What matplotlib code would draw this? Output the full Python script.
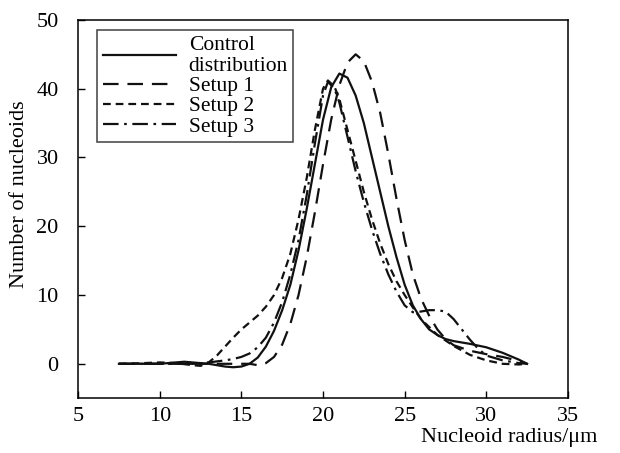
import matplotlib.pyplot as plt

plt.rcParams["font.family"] = ["Liberation Serif", "DejaVu Serif"]

# ─── data ──────────────────────────────────────────────────────────
ctrl_x = [7.5, 9, 10, 11, 11.5, 12, 13, 14, 14.5, 15, 15.5, 16, 16.5, 17, 17.5,
          18, 18.5, 19, 19.5, 20, 20.5, 21, 21.5, 22, 22.5, 23, 23.5, 24, 24.5,
          25, 25.5, 26, 26.5, 27, 27.5, 28, 29, 30, 31, 32, 32.5]
ctrl_y = [0, 0, 0, 0.2, 0.3, 0.2, 0, -0.4, -0.5, -0.4, 0, 0.9, 2.5, 4.8, 7.8,
          11.5, 16.5, 22.5, 29, 35.5, 40.2, 42.2, 41.6, 39, 35, 30, 25, 20,
          15.5, 11.5, 8.5, 6.5, 5, 4.2, 3.6, 3.3, 2.9, 2.4, 1.6, 0.6, 0]

set1_x = [7.5, 9, 10, 11, 12, 13, 14, 15, 15.5, 16, 16.5, 17, 17.5, 18, 18.5,
          19, 19.5, 20, 20.5, 21, 21.5, 22, 22.5, 23, 23.5, 24, 24.5, 25, 25.5,
          26, 26.5, 27, 27.5, 28, 29, 30, 31, 32, 32.5]
set1_y = [0, 0, 0, 0, 0, 0, 0, 0, 0, -0.2, 0.1, 1, 2.8, 5.8, 10, 15.5, 22,
          29, 35.5, 40.5, 43.8, 45, 44, 41, 36.5, 30.5, 24, 18, 13, 9.5, 7,
          5, 3.6, 2.7, 1.9, 1.4, 1, 0.4, 0]

set2_x = [7.5, 9, 10, 11, 12, 12.5, 13, 13.5, 14, 14.5, 15, 15.5, 16, 16.5,
          17, 17.5, 18, 18.5, 19, 19.5, 20, 20.3, 20.7, 21, 21.5, 22, 22.5, 23,
          23.5, 24, 24.5, 25, 25.5, 26, 27, 28, 29, 30, 31, 32, 32.5]
set2_y = [0, 0.1, 0.2, 0.1, -0.2, -0.3, 0.2, 1.2, 2.5, 3.8, 5, 6, 7, 8.3,
          10, 12.5, 16, 21, 27, 34, 40, 41.2, 40.3, 38.5, 34, 29.5, 25, 21,
          17.5, 14.5, 12, 10, 8.2, 6.5, 4.2, 2.6, 1.3, 0.5, 0, -0.1, 0]

set3_x = [7.5, 9, 10, 11, 12, 13, 14, 14.5, 15, 15.5, 16, 16.5, 17, 17.5, 18,
          18.5, 19, 19.5, 20, 20.3, 20.7, 21, 21.5, 22, 22.5, 23, 23.5, 24,
          24.5, 25, 25.5, 26, 26.5, 27, 27.5, 28, 28.5, 29, 29.5, 30, 31, 32,
          32.5]
set3_y = [0, 0, 0, 0, 0, 0.2, 0.5, 0.7, 1, 1.5, 2.4, 3.8, 6, 9, 13, 18,
          24.5, 32, 39, 41, 40, 38, 33, 28, 23.5, 19.5, 16, 13, 10.5, 8.5,
          7.5, 7.6, 7.8, 7.8, 7.6, 6.5, 5, 3.5, 2.2, 1.2, 0.5, 0.1, 0]

x_ticks = [5, 10, 15, 20, 25, 30, 35]
y_ticks = [0, 10, 20, 30, 40, 50]

series = [
    ("Control\ndistribution", ctrl_x, ctrl_y, "-"),
    ("Setup 1", set1_x, set1_y, (0, (7, 4))),
    ("Setup 2", set2_x, set2_y, (0, (3.5, 2.2))),
    ("Setup 3", set3_x, set3_y, (0, (7, 2.5, 1.2, 2.5))),
]

# ─── plot ──────────────────────────────────────────────────────────
fig = plt.figure(figsize=(6.2, 4.53), dpi=100)
ax = fig.add_axes([0.126, 0.121, 0.79, 0.835])

for label, xs, ys, ls in series:
    ax.plot(xs, ys, color="#111", lw=1.6, linestyle=ls, label=label)

ax.set_xlim(5, 35)
ax.set_ylim(-5, 50)
ax.set_xticks(x_ticks)
ax.set_yticks(y_ticks)
ax.tick_params(direction="in", length=5, width=1, labelsize=16,
               top=False, right=False)
ax.tick_params(axis="y", pad=14)
ax.tick_params(axis="x", pad=6)
for sp in ax.spines.values():
    sp.set_linewidth(1.1)

ax.set_ylabel("Number of nucleoids", fontsize=16)
ax.yaxis.set_label_coords(-0.1, 0.54)
ax.set_xlabel("Nucleoid radius/μm", fontsize=16)
ax.xaxis.set_label_coords(1.06, -0.08)
ax.xaxis.label.set_horizontalalignment("right")

leg = ax.legend(loc="upper left", bbox_to_anchor=(0.039, 0.973),
                fontsize=15.5, frameon=True, fancybox=False,
                handlelength=3.4, labelspacing=0.0, borderpad=0.25,
                borderaxespad=0, handletextpad=0.6)
leg.get_frame().set_edgecolor("#111")
leg.get_frame().set_linewidth(1.1)

fig.savefig("out.png")
